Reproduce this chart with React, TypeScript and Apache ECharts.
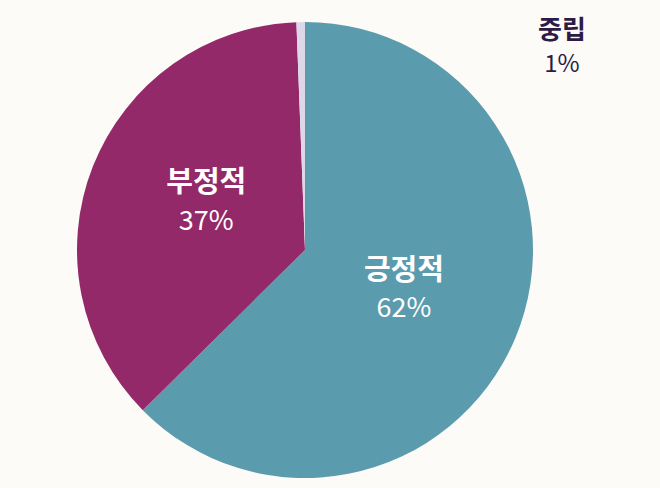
import { useEffect, useRef } from "react";
import * as echarts from "echarts";

// share of responses (labels show rounded values)
const categories = ["긍정적", "부정적", "중립"];
const shares = [62.6, 36.8, 0.6];
const shareLabels = ["62%", "37%", "1%"];
const colors = ["#5a9cae", "#94296a", "#dcd8ea"];

const FONT = "'Noto Sans CJK KR', 'Noto Sans', sans-serif";
// nudges for the inside labels, per slice
const labelShift = [
  [-9, -9],
  [10, -8],
  [0, 0],
];

export default function App() {
  const chartRef = useRef<HTMLDivElement>(null);

  useEffect(() => {
    document.body.style.margin = "0";
    if (!chartRef.current) return;
    const chart = echarts.init(chartRef.current, null, { renderer: "svg" });

    chart.setOption({
      animation: false,
      backgroundColor: "#fcfbf8",
      graphic: [
        {
          type: "text",
          left: 562 - 45,
          top: 14,
          style: {
            text: `{n|${categories[2]}}\n{v|${shareLabels[2]}}`,
            align: "center",
            width: 90,
            rich: {
              n: { fontFamily: FONT, fontSize: 26, fontWeight: "bold", fill: "#2d1b45", lineHeight: 34, width: 90, align: "center" },
              v: { fontFamily: FONT, fontSize: 24, fill: "#2d1b45", lineHeight: 34, width: 90, align: "center" },
            },
          },
        },
      ],
      series: [
        {
          type: "pie",
          center: [305, 250],
          radius: [0, 228],
          startAngle: 90,
          clockwise: true,
          silent: true,
          label: {
            show: true,
            position: "inside",
            formatter: (p: any) => `{n|${p.name}}\n{v|${shareLabels[p.dataIndex]}}`,
            rich: {
              n: { fontFamily: FONT, fontSize: 29, fontWeight: "bold", color: "#ffffff", lineHeight: 39 },
              v: { fontFamily: FONT, fontSize: 27, color: "#ffffff", lineHeight: 39 },
            },
          },
          labelLayout: (p: any) => ({ dx: labelShift[p.dataIndex][0], dy: labelShift[p.dataIndex][1] }),
          labelLine: { show: false },
          itemStyle: { borderWidth: 0 },
          data: categories.map((name, i) => ({
            name,
            value: shares[i],
            itemStyle: { color: colors[i] },
            label: { show: i < 2 },
          })),
        },
      ],
    });

    return () => chart.dispose();
  }, []);

  return <div ref={chartRef} style={{ width: 660, height: 488 }} />;
}
